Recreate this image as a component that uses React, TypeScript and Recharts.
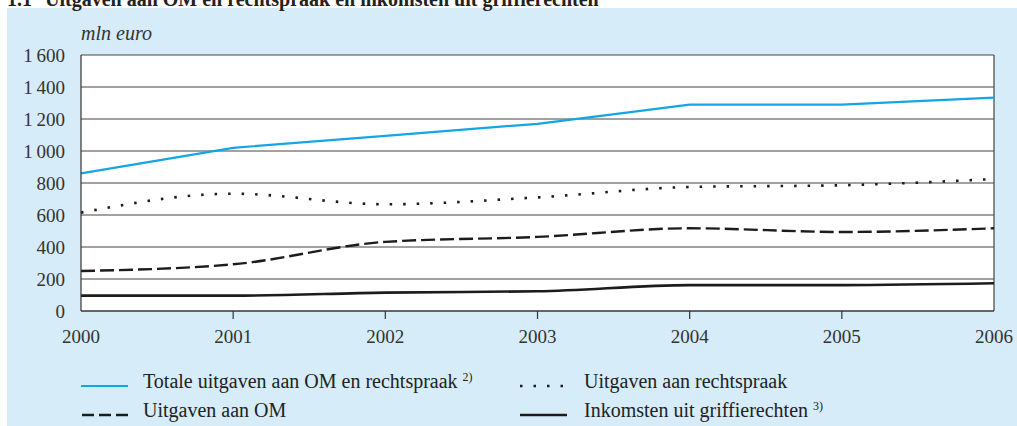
import React from "react";
import { LineChart, Line, XAxis, YAxis, CartesianGrid, ReferenceLine } from "recharts";

const years = [2000, 2001, 2002, 2003, 2004, 2005, 2006];
const totaal = [860, 1020, 1095, 1170, 1290, 1290, 1333];
const rechtspraak = [615, 733, 667, 710, 775, 786, 825];
const om = [250, 292, 432, 463, 517, 494, 517];
const griffie = [96, 96, 115, 123, 162, 162, 173];
const yTicks = [0, 200, 400, 600, 800, 1000, 1200, 1400, 1600];

const data = years.map((year, i) => ({
  year,
  totaal: totaal[i],
  rechtspraak: rechtspraak[i],
  om: om[i],
  griffie: griffie[i],
}));

const FONT = "'Liberation Serif', 'Times New Roman', serif";
const BLUE = "#14a6e4";
const INK = "#1c1c1c";

const fmt = (v: number) => {
  const s = String(v);
  return s.length > 3 ? s.slice(0, s.length - 3) + "\u2009" + s.slice(-3) : s;
};

const XTick = (props: any) => {
  const { x, y, payload } = props;
  const v = payload.value;
  const interior = v !== years[0] && v !== years[years.length - 1];
  return (
    <g>
      {interior && <line x1={x} x2={x} y1={y} y2={y + 8} stroke="#333" strokeWidth={1.2} />}
      <text x={x} y={y + 32} textAnchor="middle" fontFamily={FONT} fontSize={19} fill="#333">
        {v}
      </text>
    </g>
  );
};

export default function App() {
  return (
    <div style={{ position: "absolute", left: 0, top: 0, width: 1017, height: 426, background: "#fff", overflow: "hidden" }}>
      <div style={{ position: "absolute", left: 7, top: 8, width: 1010, height: 418, background: "#d6ecf9" }} />
      <svg width={1017} height={426} style={{ position: "absolute", left: 0, top: 0 }}>
        <text x={7} y={6} fontFamily={FONT} fontSize={20} fontWeight="bold" fill="#222">1.1</text>
        <text x={45} y={6} fontFamily={FONT} fontSize={20} fontWeight="bold" fill="#222">
          Uitgaven aan OM en rechtspraak en inkomsten uit griffierechten
        </text>
        <text x={81} y={40} fontFamily={FONT} fontSize={20} fontStyle="italic" fill="#333">mln euro</text>
      </svg>
      <div style={{ position: "absolute", left: 0, top: 0 }}>
        <LineChart width={1017} height={426} data={data} margin={{ top: 55, right: 23, left: 0, bottom: 0 }}>
          <CartesianGrid horizontal={true} vertical={false} stroke="#444" strokeWidth={1} fill="#fff" fillOpacity={1} />
          <XAxis
            dataKey="year"
            type="number"
            domain={[2000, 2006]}
            ticks={years}
            height={115}
            axisLine={{ stroke: "#333", strokeWidth: 1.2 }}
            tickLine={false}
            tickSize={0}
            tickMargin={0}
            tick={<XTick />}
            interval={0}
          />
          <YAxis
            type="number"
            domain={[0, 1600]}
            ticks={yTicks}
            width={81}
            axisLine={{ stroke: "#333", strokeWidth: 1.2 }}
            tickLine={false}
            tickSize={0}
            tickMargin={16}
            tickFormatter={fmt}
            tick={{ fontFamily: FONT, fontSize: 19, fill: "#333" }}
            interval={0}
          />
          <ReferenceLine x={2006} stroke="#444" strokeWidth={1.2} />
          <Line type="linear" dataKey="totaal" stroke={BLUE} strokeWidth={2.2} dot={false} isAnimationActive={false} />
          <Line type="monotone" dataKey="rechtspraak" stroke={INK} strokeWidth={2.6} strokeDasharray="2.5 11" dot={false} isAnimationActive={false} />
          <Line type="monotone" dataKey="om" stroke={INK} strokeWidth={2.4} strokeDasharray="14 5" dot={false} isAnimationActive={false} />
          <Line type="monotone" dataKey="griffie" stroke={INK} strokeWidth={2.6} dot={false} isAnimationActive={false} />
        </LineChart>
      </div>
      <svg width={1017} height={426} style={{ position: "absolute", left: 0, top: 0, pointerEvents: "none" }}>
        <line x1={81} x2={128} y1={386} y2={386} stroke={BLUE} strokeWidth={2.2} />
        <text x={143} y={388} fontFamily={FONT} fontSize={20} fill="#222">
          Totale uitgaven aan OM en rechtspraak <tspan fontSize={12} dy={-7}>2)</tspan>
        </text>
        <line x1={520} x2={566} y1={386} y2={386} stroke={INK} strokeWidth={2.6} strokeDasharray="2.5 11" />
        <text x={584} y={388} fontFamily={FONT} fontSize={20} fill="#222">Uitgaven aan rechtspraak</text>
        <line x1={82} x2={128} y1={415} y2={415} stroke={INK} strokeWidth={2.4} strokeDasharray="12 5" />
        <text x={143} y={417} fontFamily={FONT} fontSize={20} fill="#222">Uitgaven aan OM</text>
        <line x1={520} x2={567} y1={415} y2={415} stroke={INK} strokeWidth={2.6} />
        <text x={584} y={417} fontFamily={FONT} fontSize={20} fill="#222">
          Inkomsten uit griffierechten <tspan fontSize={12} dy={-7}>3)</tspan>
        </text>
      </svg>
    </div>
  );
}
